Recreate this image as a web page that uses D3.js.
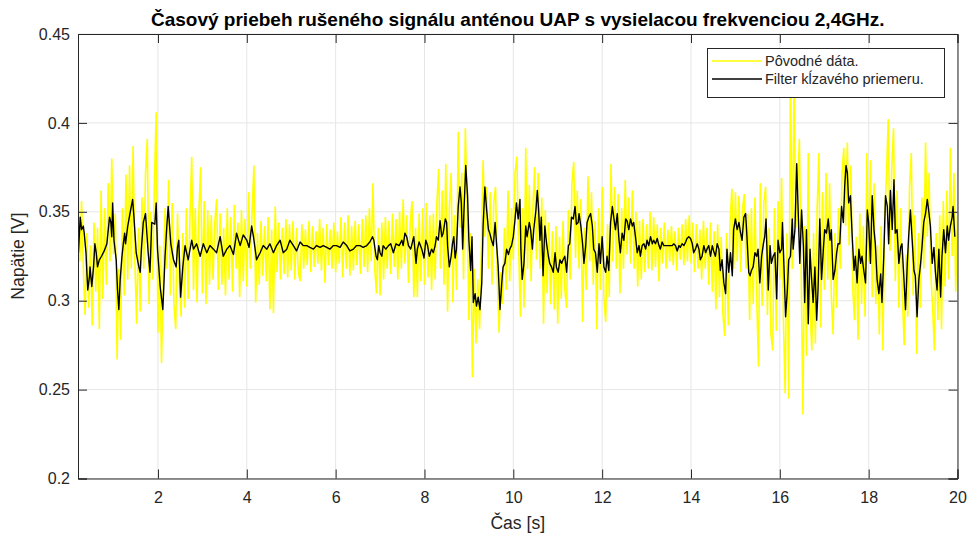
<!DOCTYPE html>
<html>
<head>
<meta charset="utf-8">
<script src="https://cdn.jsdelivr.net/npm/d3@7"></script>
<style>
body { margin: 0; background: #fff; }
text { font-family: "Liberation Sans", Arial, Helvetica, sans-serif; fill: #262626; }
</style>
</head>
<body>
<div id="chart"></div>
<script>
var titleText = "Časový priebeh rušeného signálu anténou UAP s vysielacou frekvenciou 2,4GHz.";
var xLabelText = "Čas [s]";
var yLabelText = "Napätie [V]";
var legendLabels = ["Pôvodné dáta.", "Filter kĺzavého priemeru."];

var xDomain = [0.2, 20];
var yDomain = [0.2, 0.45];
var xTicks = [2, 4, 6, 8, 10, 12, 14, 16, 18, 20];
var yTicks = [0.2, 0.25, 0.3, 0.35, 0.4, 0.45];
var yTickLabels = ["0.2", "0.25", "0.3", "0.35", "0.4", "0.45"];

// raw samples (yellow), one every 0.04 s starting at 0.2 s
var rawStart = 0.2;
var rawStep = 0.04;
var rawVoltage = [
	0.368,0.322,0.356,0.318,0.292,0.338,0.296,0.331,0.286,0.344,0.305,0.341,0.284,0.362,0.301,0.352,0.309,0.366,0.322,0.380,0.326,0.349,0.267,0.318,0.278,
	0.352,0.303,0.371,0.312,0.376,0.318,0.387,0.322,0.287,0.341,0.294,0.358,0.318,0.372,0.391,0.298,0.350,0.312,0.366,0.406,0.282,0.331,0.265,0.314,0.352,
	0.318,0.368,0.303,0.355,0.298,0.284,0.349,0.312,0.291,0.338,0.296,0.352,0.301,0.346,0.381,0.306,0.352,0.299,0.348,0.375,0.304,0.356,0.298,0.351,0.309,
	0.348,0.312,0.344,0.357,0.306,0.349,0.309,0.341,0.303,0.352,0.312,0.347,0.305,0.354,0.318,0.344,0.302,0.351,0.311,0.346,0.308,0.361,0.318,0.350,0.376,
	0.299,0.338,0.309,0.345,0.314,0.342,0.311,0.347,0.295,0.340,0.293,0.353,0.316,0.344,0.312,0.341,0.315,0.346,0.313,0.343,0.317,0.345,0.312,0.341,0.316,
	0.311,0.343,0.318,0.340,0.320,0.345,0.316,0.342,0.319,0.339,0.321,0.346,0.317,0.341,0.310,0.343,0.320,0.340,0.318,0.344,0.316,0.339,0.321,0.347,0.313,
	0.344,0.318,0.348,0.314,0.342,0.317,0.345,0.320,0.343,0.315,0.346,0.319,0.348,0.316,0.352,0.322,0.366,0.318,0.304,0.341,0.303,0.344,0.312,0.347,0.318,
	0.345,0.315,0.349,0.319,0.346,0.312,0.350,0.318,0.357,0.321,0.348,0.310,0.344,0.356,0.302,0.341,0.302,0.349,0.311,0.352,0.309,0.355,0.313,0.348,0.306,
	0.349,0.312,0.355,0.374,0.318,0.362,0.309,0.377,0.294,0.352,0.372,0.299,0.348,0.306,0.395,0.341,0.372,0.312,0.397,0.352,0.289,0.338,0.257,0.318,0.276,
	0.312,0.284,0.327,0.379,0.336,0.364,0.318,0.361,0.309,0.355,0.364,0.312,0.282,0.316,0.298,0.341,0.306,0.362,0.311,0.352,0.323,0.372,0.381,0.330,0.291,
	0.352,0.296,0.386,0.318,0.365,0.311,0.352,0.375,0.323,0.372,0.318,0.358,0.287,0.351,0.304,0.344,0.298,0.339,0.295,0.342,0.287,0.336,0.301,0.345,0.306,
	0.296,0.351,0.312,0.366,0.378,0.324,0.362,0.318,0.357,0.288,0.341,0.306,0.370,0.322,0.361,0.309,0.345,0.284,0.352,0.306,0.364,0.301,0.288,0.343,0.302,
	0.377,0.322,0.364,0.318,0.360,0.304,0.352,0.318,0.368,0.326,0.358,0.321,0.362,0.318,0.350,0.308,0.345,0.312,0.346,0.316,0.343,0.318,0.350,0.317,0.347,
	0.319,0.343,0.311,0.341,0.321,0.344,0.318,0.340,0.322,0.342,0.320,0.339,0.317,0.341,0.323,0.343,0.320,0.346,0.322,0.348,0.321,0.344,0.316,0.343,0.318,
	0.340,0.312,0.345,0.318,0.341,0.309,0.344,0.305,0.339,0.295,0.343,0.302,0.336,0.292,0.280,0.338,0.286,0.344,0.363,0.318,0.361,0.322,0.359,0.316,0.352,
	0.360,0.318,0.349,0.289,0.352,0.298,0.358,0.302,0.263,0.366,0.297,0.355,0.364,0.292,0.341,0.281,0.272,0.352,0.283,0.356,0.312,0.369,0.290,0.248,0.338,
	0.245,0.432,0.318,0.423,0.341,0.362,0.391,0.318,0.236,0.342,0.269,0.383,0.296,0.272,0.338,0.276,0.352,0.383,0.285,0.361,0.306,0.372,0.312,0.366,0.302,
	0.281,0.338,0.296,0.352,0.318,0.371,0.386,0.342,0.389,0.331,0.376,0.308,0.289,0.336,0.278,0.349,0.298,0.342,0.291,0.383,0.322,0.379,0.302,0.366,0.298,
	0.331,0.281,0.342,0.272,0.348,0.369,0.402,0.328,0.375,0.397,0.311,0.362,0.296,0.352,0.302,0.275,0.326,0.291,0.364,0.383,0.303,0.348,0.270,0.338,0.296,
	0.358,0.318,0.389,0.336,0.372,0.315,0.296,0.272,0.338,0.289,0.348,0.284,0.356,0.308,0.362,0.312,0.386,0.325,0.372,0.305,0.348
];

// moving average (black), [time s, voltage V]
var filterPoints = [
	[0.21,0.327],[0.25,0.347],[0.28,0.340],[0.32,0.342],[0.34,0.338],[0.38,0.327],[0.40,0.316],[0.42,0.306],[0.46,0.314],[0.47,0.319],
	[0.51,0.308],[0.55,0.319],[0.58,0.332],[0.61,0.327],[0.64,0.319],[0.68,0.323],[0.73,0.325],[0.79,0.328],[0.85,0.332],[0.91,0.347],
	[0.94,0.344],[0.96,0.336],[0.98,0.355],[1.01,0.334],[1.06,0.323],[1.09,0.306],[1.12,0.295],[1.15,0.312],[1.19,0.325],[1.22,0.332],
	[1.25,0.338],[1.27,0.332],[1.32,0.342],[1.37,0.349],[1.43,0.357],[1.46,0.347],[1.51,0.327],[1.57,0.319],[1.60,0.316],[1.63,0.330],
	[1.67,0.344],[1.72,0.349],[1.78,0.327],[1.82,0.316],[1.86,0.344],[1.93,0.343],[1.96,0.355],[1.99,0.329],[2.05,0.308],[2.11,0.295],
	[2.16,0.325],[2.20,0.342],[2.23,0.353],[2.29,0.332],[2.35,0.323],[2.41,0.319],[2.44,0.330],[2.47,0.334],[2.51,0.302],[2.56,0.319],
	[2.61,0.331],[2.68,0.323],[2.76,0.334],[2.80,0.329],[2.87,0.332],[2.95,0.325],[3.02,0.332],[3.10,0.327],[3.17,0.331],[3.25,0.329],
	[3.32,0.327],[3.40,0.336],[3.47,0.325],[3.55,0.329],[3.62,0.331],[3.70,0.326],[3.77,0.338],[3.85,0.331],[3.92,0.337],[4.00,0.334],
	[4.05,0.330],[4.11,0.342],[4.15,0.336],[4.22,0.323],[4.30,0.327],[4.37,0.331],[4.45,0.329],[4.52,0.332],[4.60,0.327],[4.67,0.331],
	[4.75,0.334],[4.82,0.327],[4.90,0.329],[4.97,0.334],[5.05,0.331],[5.12,0.328],[5.20,0.333],[5.27,0.331],
	[5.35,0.331],[5.42,0.330],[5.50,0.329],[5.57,0.331],[5.65,0.330],[5.72,0.331],[5.80,0.330],[5.87,0.329],[5.95,0.331],[6.02,0.331],
	[6.10,0.330],[6.17,0.333],[6.25,0.331],[6.32,0.328],[6.40,0.329],[6.47,0.331],[6.55,0.331],[6.62,0.330],[6.70,0.331],[6.77,0.333],
	[6.83,0.336],[6.86,0.334],[6.91,0.325],[6.94,0.323],[6.97,0.331],[7.00,0.327],[7.04,0.325],[7.07,0.331],[7.13,0.329],[7.19,0.331],
	[7.24,0.332],[7.30,0.327],[7.36,0.332],[7.43,0.331],[7.49,0.334],[7.52,0.331],[7.56,0.338],[7.60,0.336],[7.64,0.331],[7.69,0.329],
	[7.73,0.333],[7.76,0.336],[7.81,0.321],[7.84,0.329],[7.88,0.333],[7.94,0.329],[7.99,0.324],[8.03,0.334],[8.07,0.331],[8.11,0.325],
	[8.16,0.329],[8.20,0.327],[8.24,0.331],[8.27,0.336],[8.31,0.334],[8.35,0.345],[8.39,0.336],[8.42,0.338],[8.47,0.346],[8.50,0.344],
	[8.52,0.331],[8.56,0.319],[8.60,0.325],[8.63,0.332],[8.66,0.336],[8.69,0.324],[8.72,0.329],[8.76,0.353],[8.80,0.364],[8.83,0.355],
	[8.86,0.329],[8.89,0.351],[8.93,0.376],[8.97,0.359],[9.00,0.334],[9.04,0.317],[9.07,0.336],[9.10,0.299],[9.14,0.304],[9.17,0.297],
	[9.21,0.302],[9.25,0.295],[9.29,0.310],[9.32,0.342],[9.36,0.364],[9.40,0.351],[9.44,0.340],[9.47,0.338],[9.51,0.334],[9.55,0.331],
	[9.59,0.344],[9.62,0.333],[9.66,0.319],[9.70,0.295],[9.74,0.310],[9.77,0.319],[9.81,0.321],[9.85,0.329],[9.89,0.326],[9.92,0.329],
	[9.96,0.331],[10.00,0.336],[10.04,0.346],[10.07,0.355],[10.11,0.346],[10.15,0.357],[10.17,0.329],[10.20,0.312],[10.24,0.321],[10.28,0.342],
	[10.31,0.336],[10.36,0.344],[10.39,0.340],[10.43,0.329],[10.46,0.340],[10.51,0.351],[10.54,0.362],[10.57,0.351],[10.60,0.334],[10.63,0.347],
	[10.67,0.314],[10.71,0.342],[10.75,0.332],[10.79,0.325],[10.82,0.321],[10.86,0.319],[10.90,0.316],[10.94,0.327],[10.97,0.319],[11.01,0.316],
	[11.05,0.323],[11.09,0.321],[11.12,0.323],[11.16,0.325],[11.20,0.316],[11.24,0.331],[11.27,0.332],[11.31,0.347],[11.35,0.346],[11.39,0.353],
	[11.42,0.343],[11.46,0.344],[11.48,0.349],[11.52,0.342],[11.56,0.332],[11.59,0.321],[11.63,0.331],[11.66,0.344],[11.70,0.347],[11.74,0.349],
	[11.78,0.342],[11.81,0.329],[11.85,0.327],[11.89,0.316],[11.93,0.332],[11.96,0.321],[12.00,0.336],[12.04,0.319],[12.08,0.316],[12.11,0.325],
	[12.15,0.317],[12.19,0.344],[12.23,0.353],[12.26,0.347],[12.30,0.340],[12.34,0.349],[12.38,0.334],[12.41,0.327],[12.45,0.338],[12.49,0.334],
	[12.53,0.346],[12.56,0.345],[12.60,0.340],[12.64,0.346],[12.68,0.342],[12.71,0.344],[12.75,0.336],[12.79,0.327],[12.83,0.331],[12.86,0.325],
	[12.90,0.331],[12.94,0.332],[12.98,0.329],[13.01,0.334],[13.05,0.331],[13.09,0.336],[13.13,0.332],[13.16,0.334],[13.20,0.332],[13.24,0.335],
	[13.28,0.331],[13.31,0.329],[13.35,0.333],[13.39,0.331],[13.43,0.331],[13.46,0.331],[13.50,0.331],[13.54,0.331],[13.58,0.331],[13.61,0.332],
	[13.65,0.331],[13.69,0.328],[13.73,0.331],[13.76,0.330],[13.80,0.332],[13.84,0.331],[13.88,0.333],[13.91,0.335],[13.95,0.336],[13.99,0.335],
	[14.03,0.332],[14.06,0.327],[14.10,0.329],[14.14,0.332],[14.18,0.329],[14.21,0.323],[14.25,0.325],[14.29,0.331],[14.33,0.327],[14.36,0.329],
	[14.40,0.331],[14.44,0.325],[14.48,0.331],[14.51,0.328],[14.55,0.325],[14.59,0.332],[14.63,0.329],[14.66,0.317],[14.70,0.323],[14.74,0.310],
	[14.78,0.304],[14.81,0.329],[14.85,0.316],[14.89,0.327],[14.93,0.314],[14.96,0.340],[15.00,0.346],[15.04,0.340],[15.08,0.344],[15.11,0.339],
	[15.15,0.334],[15.19,0.347],[15.23,0.349],[15.26,0.336],[15.30,0.316],[15.33,0.314],[15.36,0.317],[15.40,0.319],[15.44,0.327],[15.48,0.325],
	[15.51,0.329],[15.55,0.310],[15.59,0.325],[15.63,0.332],[15.66,0.336],[15.69,0.346],[15.72,0.321],[15.74,0.306],[15.78,0.331],[15.81,0.321],
	[15.85,0.325],[15.89,0.327],[15.93,0.301],[15.96,0.334],[16.00,0.327],[16.04,0.329],[16.06,0.344],[16.10,0.314],[16.13,0.291],[16.17,0.306],
	[16.20,0.323],[16.24,0.325],[16.28,0.346],[16.30,0.329],[16.34,0.340],[16.38,0.377],[16.41,0.353],[16.45,0.321],[16.49,0.351],[16.53,0.331],
	[16.56,0.299],[16.60,0.340],[16.64,0.287],[16.68,0.329],[16.71,0.314],[16.75,0.299],[16.79,0.319],[16.83,0.289],[16.86,0.306],[16.90,0.346],
	[16.94,0.312],[16.98,0.329],[17.01,0.340],[17.05,0.338],[17.09,0.346],[17.13,0.334],[17.16,0.340],[17.20,0.312],[17.24,0.317],[17.28,0.327],
	[17.31,0.332],[17.35,0.332],[17.39,0.353],[17.43,0.344],[17.46,0.364],[17.49,0.376],[17.52,0.372],[17.55,0.355],[17.59,0.359],[17.63,0.336],
	[17.67,0.317],[17.70,0.325],[17.74,0.310],[17.78,0.329],[17.82,0.321],[17.85,0.325],[17.89,0.317],[17.93,0.310],[17.97,0.351],[18.00,0.344],
	[18.04,0.321],[18.08,0.359],[18.12,0.340],[18.15,0.332],[18.19,0.312],[18.23,0.304],[18.27,0.315],[18.30,0.299],[18.34,0.325],[18.38,0.359],
	[18.42,0.353],[18.45,0.332],[18.49,0.362],[18.53,0.340],[18.57,0.368],[18.60,0.338],[18.64,0.340],[18.68,0.321],[18.72,0.330],[18.75,0.332],
	[18.79,0.314],[18.83,0.295],[18.87,0.321],[18.90,0.336],[18.94,0.351],[18.98,0.334],[19.02,0.317],[19.05,0.314],[19.09,0.291],[19.13,0.312],
	[19.17,0.321],[19.20,0.330],[19.24,0.344],[19.28,0.349],[19.32,0.357],[19.35,0.351],[19.39,0.342],[19.43,0.321],[19.47,0.330],[19.50,0.317],
	[19.54,0.306],[19.58,0.329],[19.62,0.302],[19.65,0.325],[19.69,0.340],[19.73,0.327],[19.77,0.342],[19.80,0.334],[19.84,0.342],[19.88,0.347],
	[19.90,0.353],[19.94,0.336]
];

var svgWidth = 973;
var svgHeight = 539;

var margin = {
	top: 34,
	bottom: 60.5,
	right: 15.5,
	left: 78
};

var width = svgWidth - margin.left - margin.right;
var height = svgHeight - margin.top - margin.bottom;

var axisColor = "#262626";
var gridColor = "#e6e6e6";
var tickLen = 9;

var svg = d3.select("#chart")
	.append("svg")
	.attr("width", svgWidth)
	.attr("height", svgHeight);

svg.append("rect")
	.attr("width", svgWidth)
	.attr("height", svgHeight)
	.attr("fill", "#fff");

var chartGroup = svg.append("g")
	.attr("transform", `translate(${margin.left}, ${margin.top})`);

var xLinearScale = d3.scaleLinear().domain(xDomain).range([0, width]);
var yLinearScale = d3.scaleLinear().domain(yDomain).range([height, 0]);

// grid
chartGroup.append("g").selectAll("line")
	.data(xTicks)
	.enter()
	.append("line")
	.attr("x1", d => xLinearScale(d))
	.attr("x2", d => xLinearScale(d))
	.attr("y1", 0)
	.attr("y2", height)
	.attr("stroke", gridColor);

chartGroup.append("g").selectAll("line")
	.data(yTicks)
	.enter()
	.append("line")
	.attr("x1", 0)
	.attr("x2", width)
	.attr("y1", d => yLinearScale(d))
	.attr("y2", d => yLinearScale(d))
	.attr("stroke", gridColor);

chartGroup.append("clipPath")
	.attr("id", "plotClip")
	.append("rect")
	.attr("width", width)
	.attr("height", height);

var rawData = rawVoltage.map((v, i) => ({ t: rawStart + i * rawStep, v: v }));

var rawLine = d3.line()
	.x(d => xLinearScale(d.t))
	.y(d => yLinearScale(d.v));

var filterLine = d3.line()
	.x(d => xLinearScale(d[0]))
	.y(d => yLinearScale(d[1]));

var dataGroup = chartGroup.append("g").attr("clip-path", "url(#plotClip)");

dataGroup.append("path")
	.datum(rawData)
	.attr("d", rawLine)
	.attr("fill", "none")
	.attr("stroke", "#ffff00")
	.attr("stroke-width", 1.6)
	.attr("stroke-linejoin", "miter")
	.attr("stroke-miterlimit", 2);

dataGroup.append("path")
	.datum(filterPoints)
	.attr("d", filterLine)
	.attr("fill", "none")
	.attr("stroke", "#000")
	.attr("stroke-width", 1.4)
	.attr("stroke-linejoin", "round");

// axes, ticks point inwards like MATLAB
var bottomAxis = d3.axisBottom(xLinearScale)
	.tickValues(xTicks)
	.tickSize(-tickLen)
	.tickPadding(13)
	.tickFormat(d3.format("d"));
var topAxis = d3.axisTop(xLinearScale)
	.tickValues(xTicks)
	.tickSize(-tickLen)
	.tickFormat("");
var leftAxis = d3.axisLeft(yLinearScale)
	.tickValues(yTicks)
	.tickSize(-tickLen)
	.tickPadding(8)
	.tickFormat((d, i) => yTickLabels[i]);
var rightAxis = d3.axisRight(yLinearScale)
	.tickValues(yTicks)
	.tickSize(-tickLen)
	.tickFormat("");

var xAxis = chartGroup.append("g")
	.attr("transform", `translate(0, ${height})`)
	.call(bottomAxis);
chartGroup.append("g").call(topAxis);
var yAxis = chartGroup.append("g").call(leftAxis);
chartGroup.append("g")
	.attr("transform", `translate(${width}, 0)`)
	.call(rightAxis);

chartGroup.selectAll(".domain").attr("stroke", axisColor);
chartGroup.selectAll(".tick line").attr("stroke", axisColor);
chartGroup.selectAll(".tick text")
	.attr("fill", axisColor)
	.style("font-size", "16px")
	.style("font-family", "'Liberation Sans', Arial, sans-serif");

// legend
var legendW = 237, legendH = 49;
var legendGroup = chartGroup.append("g")
	.attr("transform", `translate(${Math.round(width - 13.5 - legendW)}, 14)`);

legendGroup.append("rect")
	.attr("x", 0.5)
	.attr("y", 0.5)
	.attr("width", legendW)
	.attr("height", legendH)
	.attr("fill", "#fff")
	.attr("stroke", axisColor)
	.attr("stroke-width", 1);

var legendColors = ["#ffff00", "#000"];
legendLabels.forEach(function(label, i) {
	var rowY = 13 + i * 18;
	legendGroup.append("line")
		.attr("x1", 5)
		.attr("x2", 55)
		.attr("y1", rowY)
		.attr("y2", rowY)
		.attr("stroke", legendColors[i])
		.attr("stroke-width", 1.5);
	legendGroup.append("text")
		.attr("x", 58)
		.attr("y", rowY)
		.attr("dy", "0.35em")
		.style("font-size", "14.5px")
		.text(label);
});

// labels
svg.append("text")
	.attr("x", margin.left + width / 2)
	.attr("y", 26)
	.attr("text-anchor", "middle")
	.style("font-size", "19px")
	.style("font-weight", "bold")
	.style("fill", "#000")
	.text(titleText);

svg.append("text")
	.attr("x", margin.left + width / 2)
	.attr("y", 529)
	.attr("text-anchor", "middle")
	.style("font-size", "17.6px")
	.text(xLabelText);

svg.append("text")
	.attr("transform", `translate(24, ${margin.top + height / 2}) rotate(-90)`)
	.attr("text-anchor", "middle")
	.style("font-size", "17.6px")
	.text(yLabelText);
</script>
</body>
</html>
